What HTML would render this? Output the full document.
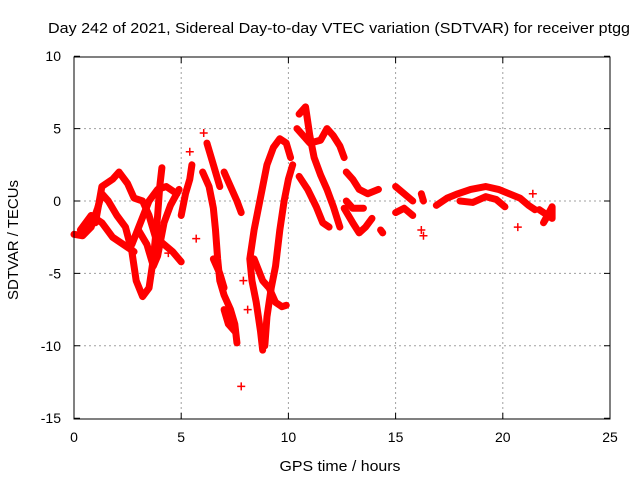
<!DOCTYPE html>
<html><head><meta charset="utf-8"><style>
body{margin:0;background:#fff}
svg text{font-family:"Liberation Sans",sans-serif;font-size:14px;fill:#000}
</style></head><body>
<svg width="640" height="480" id="c">
<text x="339" y="33" text-anchor="middle" textLength="582" lengthAdjust="spacingAndGlyphs" style="font-size:15px">Day 242 of 2021, Sidereal Day-to-day VTEC variation (SDTVAR) for receiver ptgg</text>
<text x="340" y="471" text-anchor="middle" textLength="121" lengthAdjust="spacingAndGlyphs" style="font-size:15px">GPS time / hours</text>
<text transform="translate(18,240) rotate(-90)" text-anchor="middle" textLength="120" lengthAdjust="spacingAndGlyphs" style="font-size:15px">SDTVAR / TECUs</text>
<g id="grid"></g>
<g id="ticks"></g>
<g id="marks"></g>
<rect x="74" y="57" width="536" height="362" fill="none" stroke="#000"/>
</svg>
<script>
const xTicks=[0,5,10,15,20,25];
const yTicks=[10,5,0,-5,-10,-15];
const tracks=[
[[0,-2.3],[0.4,-2.4],[0.8,-1.8],[1.1,-0.5],[1.3,0.5],[1.6,0],[2.0,-1.0],[2.4,-1.8],[2.7,-3.5],[2.9,-5.5],[3.2,-6.6],[3.5,-6],[3.7,-4],[3.9,-1],[4.0,1.0],[4.1,2.3]],
[[1.0,-1.5],[1.3,1.0],[1.8,1.5],[2.1,2.0],[2.5,1.2],[2.8,0.2],[3.2,0],[3.5,-1],[3.8,-2.5],[4.2,-3],[4.6,-3.5],[5.0,-4.2]],
[[0.3,-2],[0.8,-1],[1.3,-1.5],[1.8,-2.5],[2.3,-3.0],[2.8,-3.5]],
[[2.7,-3],[3.1,-1.5],[3.5,0],[3.9,0.8],[4.3,1],[4.8,0.5]],
[[3.0,-2],[3.4,-3],[3.7,-4.5],[3.9,-3.8],[4.2,-1.5],[4.5,-0.3],[4.9,0.8]],
[[5.0,-1],[5.2,0.5],[5.4,1.5],[5.5,2.5]],
[[6.0,2.0],[6.3,1.0],[6.5,-0.5],[6.6,-2],[6.7,-4],[6.8,-5.5],[7.0,-6.5],[7.3,-7.5],[7.5,-8.5],[7.6,-9.8]],
[[6.2,4.0],[6.5,2.5],[6.8,1.0]],
[[7.0,2.0],[7.3,1.0],[7.6,0],[7.8,-0.8]],
[[6.5,-4],[6.8,-5],[7,-6]],
[[7.0,-7.5],[7.2,-8.5],[7.5,-9]],
[[8.8,-10.3],[8.7,-9],[8.5,-7],[8.3,-5.5],[8.2,-4],[8.4,-2],[8.6,-0.5],[8.8,1],[9.0,2.5],[9.3,3.7],[9.6,4.3],[9.9,4.0],[10.1,3.0]],
[[8.4,-4],[8.8,-5.5],[9.1,-6],[9.4,-7],[9.7,-7.3],[9.9,-7.2]],
[[8.9,-10],[9.0,-8],[9.2,-6],[9.4,-4.5],[9.6,-2],[9.8,0],[10,1.5],[10.2,2.5]],
[[10.5,6],[10.8,6.5],[11.0,4.5],[11.2,3],[11.5,1.8],[11.8,0.8],[12.1,-0.4],[12.4,-1.8]],
[[10.4,5],[10.7,4.5],[11,4],[11.5,4.2],[11.8,5],[12.1,4.5],[12.4,3.8],[12.6,3]],
[[10.5,1.7],[10.9,0.8],[11.3,-0.4],[11.6,-1.5],[11.9,-1.8]],
[[12.7,2.0],[13,1.5],[13.3,0.8],[13.7,0.5],[14.2,0.8]],
[[12.6,-0.5],[13,-1.5],[13.3,-2.2],[13.6,-1.8],[13.9,-1.2]],
[[12.7,0],[13,-0.5],[13.5,-0.5]],
[[14.3,-2.0],[14.4,-2.2]],
[[15,1],[15.4,0.5],[15.8,0]],
[[15,-0.8],[15.4,-0.5],[15.8,-1]],
[[16.2,0.5],[16.3,0]],
[[16.9,-0.3],[17.4,0.2],[17.9,0.5],[18.5,0.8],[19.2,1.0],[19.8,0.8],[20.3,0.5],[20.8,0.2],[21.2,-0.3],[21.5,-0.6]],
[[18,0],[18.6,-0.1],[19.2,0.3],[19.7,0.1],[20.1,-0.4]],
[[21.7,-0.6],[22.0,-0.9],[22.3,-1.2],[22.3,-0.4],[21.9,-1.5],[22.1,-1.0]]
];
const lonePoints=[[7.8,-12.8],[6.05,4.7],[5.4,3.4],[4.4,-3.6],[5.7,-2.6],[20.7,-1.8],[21.4,0.5],[16.2,-2.0],[16.3,-2.4],[7.9,-5.5],[8.1,-7.5]];
const X=h=>74+h*536/25, Y=v=>201-v*14.48;
const NS='http://www.w3.org/2000/svg';
function mk(t,a,p){const e=document.createElementNS(NS,t);for(const k in a)e.setAttribute(k,a[k]);p.appendChild(e);return e;}
const grid=document.getElementById('grid'),ticks=document.getElementById('ticks'),marks=document.getElementById('marks');
xTicks.forEach(t=>{const x=X(t);
 if(t>0&&t<25){const g=mk('line',{x1:x,x2:x,y1:57,y2:419,stroke:'#a0a0a0','stroke-dasharray':'2,3'},grid);}
 const l=mk('path',{d:`M${x},419v-6M${x},57v6`,stroke:'#000'},ticks);
 const tx=mk('text',{x:x,y:442,'text-anchor':'middle'},ticks);tx.textContent=t;});
yTicks.forEach(t=>{const y=Y(t);
 if(t<10&&t>-15){const g=mk('line',{x1:74,x2:610,y1:y,y2:y,stroke:'#a0a0a0','stroke-dasharray':'2,3'},grid);}
 const l=mk('path',{d:`M74,${y}h6M610,${y}h-6`,stroke:'#000'},ticks);
 const tx=mk('text',{x:61,y:y+5,'text-anchor':'end'},ticks);tx.textContent=t;});
tracks.forEach(tr=>{
 const p=mk('polyline',{points:tr.map(d=>X(d[0])+','+Y(d[1])).join(' '),fill:'none',stroke:'#f00','stroke-width':7,'stroke-linejoin':'round','stroke-linecap':'round'},marks);
 
 
});
lonePoints.forEach(d=>{
 const p=mk('path',{d:`M${X(d[0])-4},${Y(d[1])}h8M${X(d[0])},${Y(d[1])-4}v8`,stroke:'#f00','stroke-width':1.5},marks);
 
 
});
</script>
</body></html>
